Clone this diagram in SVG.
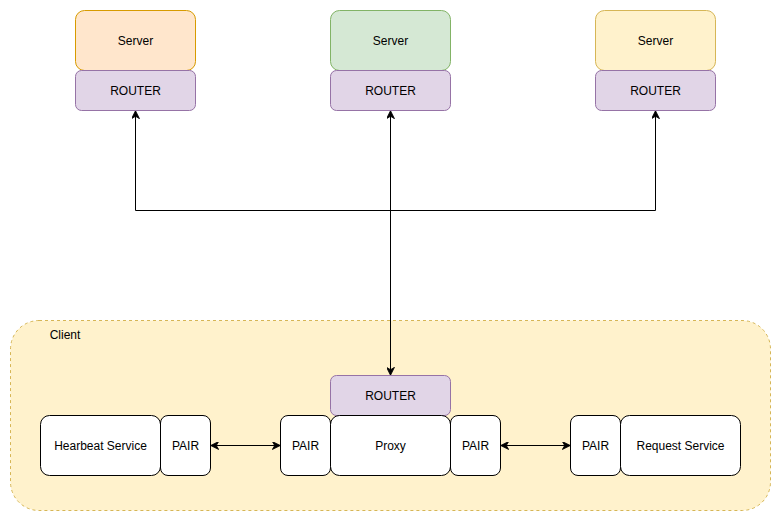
<svg xmlns="http://www.w3.org/2000/svg" width="781" height="521" viewBox="0 0 781 521">
<style>
text{font-family:"Liberation Sans",Arial,sans-serif;font-size:12px;fill:#000;text-anchor:middle;dominant-baseline:central}
.router{fill:#e1d5e7;stroke:#9673a6}
.w{fill:#fff;stroke:#000}
.conn{fill:none;stroke:#000;stroke-width:1}
</style>
<defs>
<marker id="ah" viewBox="0 0 10 10" refX="9" refY="5" markerWidth="8" markerHeight="8" markerUnits="userSpaceOnUse" orient="auto-start-reverse">
<path d="M0,0 L10,5 L0,10 L3,5 Z" fill="#000" stroke="#000" stroke-width="1"/>
</marker>
</defs>
<rect width="781" height="521" fill="#fff"/>
<g id="client">
<rect x="10.5" y="320.5" width="760" height="190" rx="28.5" fill="#fff2cc" stroke="#d6b656" stroke-dasharray="3 3"/>
<text x="65" y="335">Client</text>
</g>
<g id="server1">
<rect x="75.5" y="10.5" width="120" height="60" rx="9" fill="#ffe6cc" stroke="#d79b00"/>
<text x="135.5" y="40.5">Server</text>
</g>
<g id="router1">
<rect class="router" x="75.5" y="70.5" width="120" height="40" rx="6"/>
<text x="135.5" y="90.5">ROUTER</text>
</g>
<g id="server2">
<rect x="330.5" y="10.5" width="120" height="60" rx="9" fill="#d5e8d4" stroke="#82b366"/>
<text x="390.5" y="40.5">Server</text>
</g>
<g id="router2">
<rect class="router" x="330.5" y="70.5" width="120" height="40" rx="6"/>
<text x="390.5" y="90.5">ROUTER</text>
</g>
<g id="server3">
<rect x="595.5" y="10.5" width="120" height="60" rx="9" fill="#fff2cc" stroke="#d6b656"/>
<text x="655.5" y="40.5">Server</text>
</g>
<g id="router3">
<rect class="router" x="595.5" y="70.5" width="120" height="40" rx="6"/>
<text x="655.5" y="90.5">ROUTER</text>
</g>
<g id="clientRouter">
<rect class="router" x="330.5" y="375.5" width="120" height="40" rx="6"/>
<text x="390.5" y="395.5">ROUTER</text>
</g>
<g id="heartbeat">
<rect class="w" x="40.5" y="415.5" width="120" height="60" rx="9"/>
<text x="100.5" y="445.5">Hearbeat Service</text>
</g>
<g id="pair1">
<rect class="w" x="160.5" y="415.5" width="50" height="60" rx="7.5"/>
<text x="185.5" y="445.5">PAIR</text>
</g>
<g id="pair2">
<rect class="w" x="280.5" y="415.5" width="50" height="60" rx="7.5"/>
<text x="305.5" y="445.5">PAIR</text>
</g>
<g id="proxy">
<rect class="w" x="330.5" y="415.5" width="120" height="60" rx="9"/>
<text x="390.5" y="445.5">Proxy</text>
</g>
<g id="pair3">
<rect class="w" x="450.5" y="415.5" width="50" height="60" rx="7.5"/>
<text x="475.5" y="445.5">PAIR</text>
</g>
<g id="pair4">
<rect class="w" x="570.5" y="415.5" width="50" height="60" rx="7.5"/>
<text x="595.5" y="445.5">PAIR</text>
</g>
<g id="request">
<rect class="w" x="620.5" y="415.5" width="120" height="60" rx="9"/>
<text x="680.5" y="445.5">Request Service</text>
</g>
<g id="connectors">
<path class="conn" d="M135.5,210.5 L135.5,111.5" marker-end="url(#ah)"/>
<path class="conn" d="M655.5,210.5 L655.5,111.5" marker-end="url(#ah)"/>
<path class="conn" d="M135.5,210.5 L655.5,210.5"/>
<path class="conn" d="M390.5,111.5 L390.5,374.5" marker-start="url(#ah)" marker-end="url(#ah)"/>
<path class="conn" d="M211.5,445.5 L279.5,445.5" marker-start="url(#ah)" marker-end="url(#ah)"/>
<path class="conn" d="M501.5,445.5 L569.5,445.5" marker-start="url(#ah)" marker-end="url(#ah)"/>
</g>
</svg>
